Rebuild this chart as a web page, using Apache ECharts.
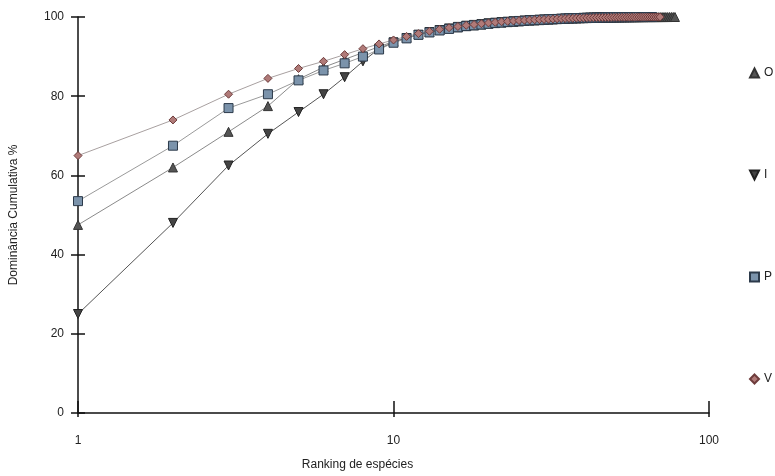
<!DOCTYPE html>
<html>
<head>
<meta charset="utf-8">
<script src="https://cdn.jsdelivr.net/npm/echarts@6/dist/echarts.min.js"></script>
<style>
html, body { margin: 0; padding: 0; background: #fff; }
#chart { width: 775px; height: 476px; }
</style>
</head>
<body>
<div id="chart"></div>
<script>
// cumulative dominance (%) per species rank
const serieO = [47.5, 62, 71, 77.5, 84.3, 87.3, 89.3, 91, 92.5, 93.8,
    94.8, 95.6, 96.2, 96.7, 97.1, 97.4, 97.7, 97.9, 98.1, 98.3,
    98.45, 98.6, 98.7, 98.8, 98.9, 99.0, 99.1, 99.15, 99.2, 99.3,
    99.35, 99.4, 99.45, 99.5, 99.55, 99.6, 99.62, 99.65, 99.68, 99.7,
    99.72, 99.74, 99.76, 99.78, 99.8, 99.82, 99.84, 99.85, 99.86, 99.87,
    99.88, 99.89, 99.9, 99.91, 99.92, 99.93, 99.93, 99.94, 99.95, 99.95,
    99.96, 99.96, 99.97, 99.97, 99.97, 99.98, 99.98, 99.98, 99.98, 99.99,
    99.99, 99.99, 99.99, 99.99, 100, 100, 100, 100]
const serieI = [25, 48, 62.5, 70.5, 76, 80.5, 84.8, 88.8, 92, 93.6,
    94.7, 95.5, 96.2, 96.7, 97.1, 97.5, 97.8, 98.0, 98.2, 98.4,
    98.55, 98.7, 98.8, 98.9, 99.0, 99.1, 99.2, 99.25, 99.3, 99.35,
    99.4, 99.45, 99.5, 99.55, 99.6, 99.64, 99.68, 99.72, 99.75, 99.78,
    99.8, 99.83, 99.85, 99.87, 99.89, 99.91, 99.93, 99.94, 99.95, 99.96,
    99.97, 99.98, 99.98, 99.99, 99.99, 100, 100, 100]
const serieP = [53.5, 67.5, 77, 80.5, 84, 86.5, 88.3, 90, 91.8, 93.5,
    94.6, 95.5, 96.1, 96.6, 97.0, 97.4, 97.7, 97.9, 98.1, 98.3,
    98.5, 98.6, 98.75, 98.85, 98.95, 99.05, 99.15, 99.2, 99.28, 99.34,
    99.4, 99.45, 99.5, 99.55, 99.6, 99.64, 99.67, 99.7, 99.73, 99.76,
    99.78, 99.8, 99.82, 99.84, 99.86, 99.88, 99.9, 99.91, 99.92, 99.93,
    99.94, 99.95, 99.96, 99.97, 99.97, 99.98, 99.98, 99.99, 99.99, 99.99,
    100, 100, 100, 100, 100, 100]
const serieV = [65, 74, 80.5, 84.5, 87, 88.8, 90.5, 92, 93.2, 94.2,
    95.1, 95.8, 96.4, 96.9, 97.3, 97.6, 97.9, 98.1, 98.3, 98.5,
    98.65, 98.8, 98.9, 99.0, 99.1, 99.2, 99.25, 99.3, 99.35, 99.4,
    99.45, 99.5, 99.55, 99.6, 99.63, 99.66, 99.69, 99.72, 99.75, 99.77,
    99.79, 99.81, 99.83, 99.85, 99.86, 99.87, 99.88, 99.89, 99.9, 99.91,
    99.92, 99.93, 99.94, 99.94, 99.95, 99.95, 99.96, 99.96, 99.97, 99.97,
    99.97, 99.98, 99.98, 99.98, 99.99, 99.99, 99.99, 99.99, 100, 100]
const yTicks = [0, 20, 40, 60, 80, 100]
const xTicks = [1, 10, 100]

const font = 'Liberation Sans, Arial, sans-serif'

function toPairs(values) {
    return values.map((v, i) => [i + 1, v])
}

function makeSerie(name, values, symbol, color, border, lineColor, rotate) {
    return {
        name: name,
        type: 'line',
        data: toPairs(values),
        symbol: symbol,
        symbolSize: symbol == 'diamond' ? 8 : 9,
        symbolRotate: rotate || 0,
        itemStyle: { color: color, borderColor: border, borderWidth: 1 },
        lineStyle: { color: lineColor, width: 1 },
        emphasis: { disabled: true },
        z: 2
    }
}

let chart = echarts.init(document.getElementById('chart'))

const axisLine = { show: true, lineStyle: { color: '#111', width: 1.5 } }
const tickStyle = { color: '#111', width: 1.5 }

let option = {
    animation: false,
    backgroundColor: '#fff',
    textStyle: { fontFamily: font },
    grid: { left: 77, right: 66, top: 17, bottom: 58 },
    legend: {
        orient: 'vertical',
        left: 744,
        top: 62,
        itemGap: 90,
        itemWidth: 9,
        itemHeight: 9,
        textStyle: { fontFamily: font, fontSize: 12, color: '#222' },
        data: [
            { name: 'O', icon: 'triangle', itemStyle: { color: '#555', borderColor: '#333' } },
            { name: 'I', icon: 'path://M0,0 L10,0 L5,10 Z', itemStyle: { color: '#444', borderColor: '#222' } },
            { name: 'P', icon: 'rect', itemStyle: { color: '#7b93ab', borderColor: '#2c3a4a' } },
            { name: 'V', icon: 'diamond', itemStyle: { color: '#b07a78', borderColor: '#6e3c3c' } }
        ]
    },
    xAxis: [{
        type: 'log',
        logBase: 10,
        min: xTicks[0],
        max: xTicks[xTicks.length - 1],
        name: 'Ranking de espécies',
        nameLocation: 'middle',
        nameGap: 46,
        nameTextStyle: { fontFamily: font, fontSize: 12, color: '#222', padding: [0, 72, 0, 0] },
        axisLine: axisLine,
        axisTick: { show: true, inside: true, length: 12, lineStyle: tickStyle },
        minorTick: { show: false },
        axisLabel: { fontFamily: font, fontSize: 12, color: '#222', margin: 22 },
        splitLine: { show: false }
    }, {
        type: 'log',
        logBase: 10,
        min: xTicks[0],
        max: xTicks[xTicks.length - 1],
        position: 'bottom',
        axisLine: { show: false },
        axisTick: { show: true, length: 4, lineStyle: tickStyle },
        axisLabel: { show: false },
        splitLine: { show: false }
    }],
    yAxis: [{
        type: 'value',
        min: yTicks[0],
        max: yTicks[yTicks.length - 1],
        interval: 20,
        name: 'Dominância Cumulativa %',
        nameLocation: 'middle',
        nameGap: 58,
        nameTextStyle: { fontFamily: font, fontSize: 12, color: '#222' },
        axisLine: axisLine,
        axisTick: { show: true, length: 7, lineStyle: tickStyle },
        axisLabel: { fontFamily: font, fontSize: 12, color: '#222', margin: 14 },
        splitLine: { show: false }
    }, {
        type: 'value',
        min: yTicks[0],
        max: yTicks[yTicks.length - 1],
        interval: 20,
        position: 'left',
        axisLine: { show: false },
        axisTick: { show: true, inside: true, length: 7, lineStyle: tickStyle },
        axisLabel: { show: false },
        splitLine: { show: false }
    }],
    series: [
        makeSerie('O', serieO, 'triangle', '#555', '#333', '#8a8a8a'),
        makeSerie('I', serieI, 'triangle', '#444', '#222', '#555', 180),
        makeSerie('P', serieP, 'rect', '#7b93ab', '#2c3a4a', '#9a9a9a'),
        makeSerie('V', serieV, 'diamond', '#b07a78', '#6e3c3c', '#a8a0a0')
    ]
}
chart.setOption(option)
</script>
</body>
</html>
